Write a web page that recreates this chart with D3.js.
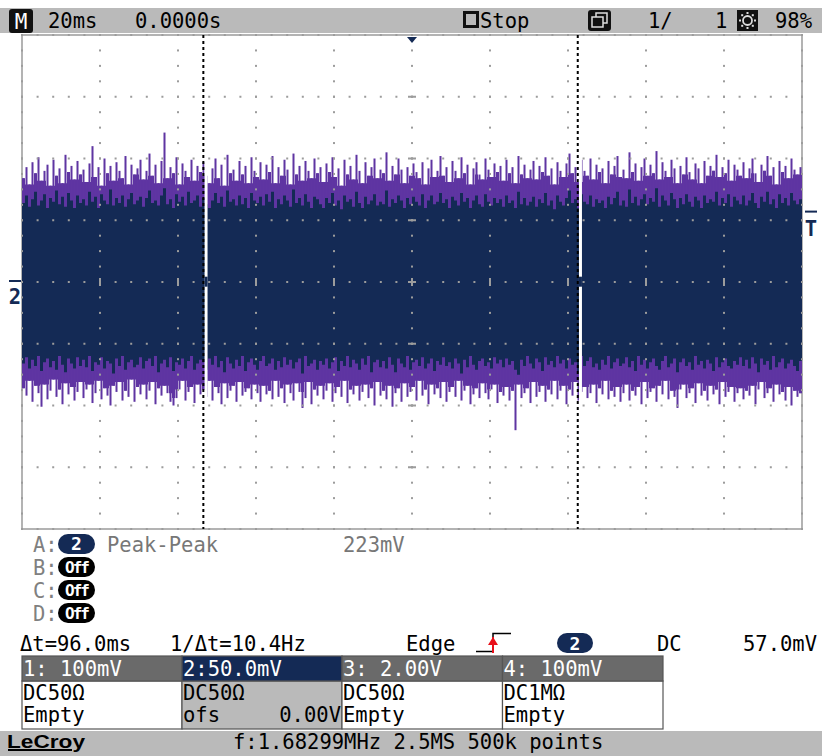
<!DOCTYPE html>
<html>
<head>
<meta charset="utf-8">
<script src="https://cdn.jsdelivr.net/npm/d3@7"></script>
<style>
  body { margin: 0; background: #fff; }
  svg { display: block; }
  text { font-family: "DejaVu Sans Mono", monospace; font-size: 20.5px; }
</style>
</head>
<body>
<div class="scope"></div>
<script>
/** channel 2 trace, sampled every ~0.77ms, values in mV (50mV/div) */
const upPeak = [
  84, 93, 79, 97, 88, 101, 82, 90, 95, 78, 99, 86, 92, 80, 103, 89, 94, 83, 98, 87,
  91, 81, 96, 110, 85, 93, 78, 100, 88, 94, 82, 97, 90, 84, 102, 79, 95, 87, 92, 99,
  83, 90, 104, 86, 95, 80, 98, 121, 84, 93, 88, 101, 79, 96, 90, 85, 99, 82, 94, 89,
  97, 86, 80, 92, 100, 84, 95, 78, 103, 88, 91, 82, 98, 87, 94, 80, 101, 90, 85, 97,
  83, 95, 89, 102, 80, 93, 86, 99, 91, 79, 104, 87, 94, 82, 98, 90, 84, 100, 88, 93,
  81, 96, 89, 101, 85, 92, 78, 99, 87, 94, 83, 103, 90, 80, 97, 86, 93, 100, 84, 91,
  88, 105, 82, 94, 87, 100, 91, 80, 93, 86, 96, 89, 84, 97, 79, 92, 99, 85, 90, 102,
  86, 93, 81, 98, 90, 84, 101, 88, 95, 79, 92, 97, 87, 83, 100, 91, 85, 96, 89, 94,
  82, 99, 88, 93, 80, 102, 87, 95, 84, 91, 98, 83, 94, 89, 101, 86, 92, 79, 97, 90,
  85, 96, 104, 88, 93, 81, 99, 90, 86, 100, 83, 95, 89, 92, 80, 98, 87, 94, 102, 85,
  91, 84, 105, 89, 96, 82, 93, 100, 86, 95, 88, 106, 83, 97, 90, 85, 99, 92, 80, 94,
  87, 101, 89, 83, 96, 92, 80, 98, 86, 94, 90, 103, 85, 93, 88, 99, 82, 95, 91, 86,
  97, 84, 92, 100, 88, 81, 95, 90, 102, 86, 93, 79, 98, 89, 94, 84, 100, 91, 87, 93];
const upNavy = [
  64, 70, 61, 67, 73, 62, 66, 71, 60, 68, 65, 74, 63, 69, 61, 72, 66, 60, 70, 64,
  67, 62, 73, 65, 69, 60, 71, 66, 63, 75, 62, 68, 64, 70, 61, 67, 72, 63, 66, 69,
  61, 68, 74, 64, 66, 62, 70, 76, 63, 67, 60, 71, 65, 69, 62, 73, 64, 66, 70, 61,
  68, 63, 60, 66, 72, 64, 69, 61, 74, 65, 67, 62, 70, 63, 68, 60, 72, 66, 64, 69,
  62, 71, 65, 73, 60, 67, 63, 70, 66, 61, 75, 64, 68, 62, 71, 65, 60, 69, 67, 63,
  60, 68, 64, 72, 62, 66, 59, 70, 65, 67, 61, 73, 64, 60, 69, 63, 66, 71, 62, 65,
  63, 74, 61, 67, 64, 70, 66, 60, 68, 63, 69, 65, 62, 71, 60, 66, 70, 63, 65, 72,
  64, 67, 60, 69, 66, 62, 72, 65, 68, 60, 66, 70, 63, 61, 71, 65, 62, 68, 64, 67,
  61, 70, 64, 66, 60, 73, 63, 68, 62, 65, 69, 61, 67, 64, 72, 62, 66, 59, 70, 65,
  62, 68, 74, 64, 67, 60, 71, 65, 63, 70, 61, 67, 64, 66, 60, 69, 63, 68, 73, 62,
  66, 61, 75, 64, 69, 62, 67, 71, 63, 68, 65, 76, 61, 70, 66, 62, 72, 67, 60, 68,
  63, 71, 65, 61, 69, 66, 60, 70, 64, 67, 65, 73, 62, 68, 64, 71, 61, 69, 66, 63,
  70, 62, 66, 72, 64, 60, 69, 65, 73, 63, 67, 60, 71, 64, 68, 62, 72, 66, 63, 67];
const loNavy = [
  -66, -61, -70, -63, -68, -60, -72, -65, -62, -69, -64, -71, -60, -67, -73, -62, -66, -70, -61, -68,
  -63, -69, -60, -72, -65, -67, -61, -70, -64, -66, -74, -62, -68, -60, -71, -65, -63, -69, -67, -61,
  -70, -64, -62, -68, -60, -73, -66, -63, -69, -61, -72, -65, -67, -62, -70, -64, -60, -71, -66, -63,
  -65, -71, -62, -67, -60, -69, -64, -73, -61, -66, -70, -63, -68, -60, -72, -65, -62, -67, -71, -64,
  -60, -68, -66, -62, -71, -64, -69, -61, -67, -63, -70, -65, -62, -74, -60, -68, -66, -63, -71, -64,
  -67, -62, -70, -65, -61, -72, -64, -68, -60, -69, -63, -66, -71, -62, -67, -60, -73, -65, -63, -69,
  -64, -70, -61, -67, -73, -62, -66, -69, -60, -71, -65, -63, -68, -61, -70, -66, -62, -72, -64, -67,
  -61, -68, -65, -70, -62, -66, -74, -63, -69, -60, -67, -71, -64, -62, -68, -65, -70, -61, -66, -63,
  -69, -62, -67, -64, -71, -75, -63, -68, -60, -66, -70, -62, -65, -72, -61, -67, -64, -69, -60, -66,
  -63, -70, -62, -67, -65, -72, -60, -68, -64, -61, -69, -66, -71, -63, -67, -60, -70, -65, -62, -68,
  -66, -61, -69, -64, -72, -60, -67, -63, -70, -65, -62, -68, -71, -64, -60, -69, -66, -62, -73, -65,
  -62, -68, -65, -71, -60, -67, -64, -70, -63, -66, -72, -61, -69, -65, -62, -68, -70, -64, -67, -61,
  -68, -63, -70, -61, -66, -73, -62, -67, -64, -71, -60, -69, -65, -62, -70, -66, -63, -68, -72, -64];
const loPeak = [
  -86, -92, -80, -97, -84, -90, -101, -83, -95, -88, -79, -93, -87, -99, -82, -91, -85, -96, -89, -81,
  -94, -87, -83, -98, -90, -80, -95, -86, -92, -100, -84, -89, -81, -96, -88, -93, -79, -97, -85, -91,
  -83, -95, -88, -81, -99, -86, -92, -84, -90, -97, -100, -94, -87, -80, -96, -89, -85, -98, -83, -91,
  -87, -93, -80, -96, -85, -90, -99, -82, -94, -88, -84, -97, -81, -92, -89, -86, -95, -83, -90, -97,
  -84, -91, -88, -95, -80, -93, -86, -98, -83, -90, -96, -82, -89, -102, -94, -81, -99, -87, -92, -84,
  -95, -88, -82, -97, -90, -85, -93, -80, -98, -87, -91, -84, -96, -89, -83, -94, -86, -100, -81, -92,
  -88, -95, -84, -101, -90, -86, -97, -82, -93, -89, -85, -96, -80, -92, -87, -99, -83, -91, -86, -94,
  -81, -97, -89, -85, -93, -80, -96, -88, -84, -99, -91, -86, -94, -82, -90, -95, -87, -83, -98, -89,
  -92, -85, -96, -88, -120, -83, -94, -90, -86, -98, -81, -93, -89, -84, -97, -87, -91, -80, -95, -88,
  -84, -99, -87, -92, -81, -96, -89, -85, -94, -90, -83, -98, -86, -91, -80, -95, -88, -93, -85, -97,
  -90, -83, -96, -88, -92, -85, -99, -81, -94, -89, -86, -97, -84, -91, -80, -95, -88, -93, -102, -87,
  -83, -94, -90, -86, -98, -82, -92, -88, -96, -84, -91, -87, -99, -81, -93, -89, -85, -97, -90, -86,
  -95, -88, -92, -84, -99, -87, -81, -94, -90, -86, -97, -83, -91, -89, -96, -85, -100, -88, -93, -90];

/** cursors (ms), trigger level (mV) */
const cursorT = [-53.5, 42.5];
const trigLevel = 57.0;

/** readouts */
const topBar = [["20ms", 48], ["0.0000s", 135], ["Stop", 480], ["1/", 648], ["1", 715], ["98%", 775]];
const measLabels = ["A:", "B:", "C:", "D:"];
const measSource = ["2", "Off", "Off", "Off"];
const chanHead = ["1: 100mV", "2:50.0mV", "3: 2.00V", "4: 100mV"];
const chanCoupling = ["DC50Ω", "DC50Ω", "DC50Ω", "DC1MΩ"];
const chanInfo = ["Empty", "ofs", "Empty", "Empty"];

const NAVY = "#142a55", PURPLE = "#5f35a2", BAR = "#bababa", DOT = "#9c9c9c";

let svg = d3.select('.scope').append('svg')
    .attr('width', 822)
    .attr('height', 756);

/** Set up scales: 20ms/div x 10, 50mV/div x 8 */
let x = d3.scaleLinear().domain([-100, 100]).range([22, 802]);
let y = d3.scaleLinear().domain([-200, 200]).range([529, 35]);

/** top status bar */
svg.append('rect').attr('x', 0).attr('y', 8).attr('width', 822).attr('height', 25).attr('fill', BAR);
svg.append('rect').attr('x', 9).attr('y', 9).attr('width', 24).attr('height', 24).attr('rx', 3).attr('fill', '#111');
svg.append('text').attr('x', 21).attr('y', 29).attr('text-anchor', 'middle')
    .attr('fill', '#fff').style('font-size', '21px').text('M');
svg.selectAll('.topText')
    .data(topBar)
    .enter()
    .append('text')
    .attr('class', 'topText')
    .attr('x', d => d[1])
    .attr('y', 28)
    .text(d => d[0]);
// stop icon
svg.append('rect').attr('x', 464.5).attr('y', 12.5).attr('width', 13).attr('height', 14)
    .attr('fill', 'none').attr('stroke', '#111').attr('stroke-width', 3);
// persistence icon
svg.append('rect').attr('x', 588).attr('y', 10).attr('width', 23).attr('height', 21).attr('rx', 3).attr('fill', '#111');
svg.append('rect').attr('x', 596).attr('y', 13).attr('width', 11).attr('height', 10)
    .attr('fill', '#111').attr('stroke', '#ddd').attr('stroke-width', 1.5);
svg.append('rect').attr('x', 592).attr('y', 17).attr('width', 11).attr('height', 10)
    .attr('fill', '#111').attr('stroke', '#ddd').attr('stroke-width', 1.5);
// intensity icon
svg.append('rect').attr('x', 737).attr('y', 10).attr('width', 21).attr('height', 21).attr('fill', '#111');
svg.append('circle').attr('cx', 747.5).attr('cy', 20.5).attr('r', 4.5)
    .attr('fill', 'none').attr('stroke', '#ddd').attr('stroke-width', 1.8);
d3.range(8).forEach(k => {
    let a = k * Math.PI / 4;
    svg.append('rect').attr('x', 747.5 + 7.5 * Math.cos(a) - 1).attr('y', 20.5 + 7.5 * Math.sin(a) - 1)
        .attr('width', 2).attr('height', 2).attr('fill', '#ddd');
});

/** plot frame */
svg.append('rect')
    .attr('x', x(-100)).attr('y', y(200))
    .attr('width', x(100) - x(-100)).attr('height', y(-200) - y(200))
    .attr('fill', '#fff').attr('stroke', '#9a9a9a').attr('stroke-width', 1.5);

/** waveform: solid body, thin spikes at the tips, navy core */
let dt = 200 / upPeak.length;
let samples = upPeak.map((d, i) => ({
    t: -100 + i * dt, up: d, un: upNavy[i], ln: loNavy[i], lp: loPeak[i],
    // body reaches only as far as the lower of the neighbouring tips
    bu: d3.min([upPeak[i - 1], d, upPeak[i + 1]].filter(v => v != null)),
    bl: d3.max([loPeak[i - 1], loPeak[i], loPeak[i + 1]].filter(v => v != null))
}));
let last = Object.assign({}, samples[samples.length - 1], { t: 100 });

let body = d3.area().curve(d3.curveStepAfter)
    .x(d => x(d.t)).y0(d => y(d.bl)).y1(d => y(d.bu));
let core = d3.area().curve(d3.curveStepAfter)
    .x(d => x(d.t)).y0(d => y(d.ln)).y1(d => y(d.un));

svg.append('path').datum(samples.concat([last])).attr('d', body).attr('fill', PURPLE);
svg.selectAll('.spike')
    .data(samples)
    .enter()
    .append('rect')
    .attr('class', 'spike')
    .attr('x', d => x(d.t) + 0.5)
    .attr('width', x(dt) - x(0) - 1)
    .attr('y', d => y(d.up))
    .attr('height', d => y(d.lp) - y(d.up))
    .attr('fill', PURPLE);
svg.append('path').datum(samples.concat([last])).attr('d', core).attr('fill', NAVY);

/** gaps in the record just after each cursor */
cursorT.forEach(t => {
    svg.append('rect').attr('x', x(t) + 1.2).attr('y', y(125))
        .attr('width', 3).attr('height', y(-125) - y(125)).attr('fill', '#fff');
    svg.append('rect').attr('x', x(t) + 1.2).attr('y', y(4.3))
        .attr('width', 3).attr('height', y(-3.8) - y(4.3)).attr('fill', NAVY);
});

/** graticule dots */
let majorT = d3.range(-100, 100.1, 20);
let majorV = d3.range(-200, 200.1, 50);
let dots = [];
majorV.forEach(v => d3.range(-100, 100.1, 4).forEach(t => dots.push([t, v])));
majorT.forEach(t => d3.range(-200, 200.1, 12.5).forEach(v => dots.push([t, v])));

svg.selectAll('.dot')
    .data(dots)
    .enter()
    .append('rect')
    .attr('class', 'dot')
    .attr('x', d => x(d[0]) - 1)
    .attr('y', d => y(d[1]) - 1)
    .attr('width', 2)
    .attr('height', 2)
    .attr('fill', DOT);

/** centre cross ticks */
svg.selectAll('.vtick')
    .data(majorT.filter(t => Math.abs(t) < 100))
    .enter()
    .append('rect')
    .attr('x', d => x(d) - 1).attr('y', y(0) - 4)
    .attr('width', 2).attr('height', 8)
    .attr('fill', DOT);
svg.selectAll('.htick')
    .data(majorV.filter(v => Math.abs(v) < 200))
    .enter()
    .append('rect')
    .attr('x', x(0) - 4).attr('y', d => y(d) - 1)
    .attr('width', 8).attr('height', 2)
    .attr('fill', DOT);

/** cursors */
svg.selectAll('.cursor')
    .data(cursorT)
    .enter()
    .append('line')
    .attr('x1', d => x(d)).attr('x2', d => x(d))
    .attr('y1', y(200)).attr('y2', y(-200))
    .attr('stroke', '#000').attr('stroke-width', 2)
    .attr('stroke-dasharray', '3,3');

/** trigger position, trigger level and ground markers */
svg.append('path')
    .attr('d', `M${x(0) - 5},${y(200) + 2}L${x(0) + 5},${y(200) + 2}L${x(0)},${y(200) + 8}Z`)
    .attr('fill', NAVY);
svg.append('line').attr('x1', 805).attr('x2', 817).attr('y1', y(trigLevel)).attr('y2', y(trigLevel))
    .attr('stroke', NAVY).attr('stroke-width', 2);
svg.append('text').attr('x', 811).attr('y', y(trigLevel) + 24).attr('text-anchor', 'middle')
    .attr('fill', NAVY).style('font-weight', 'bold').text('T');
svg.append('line').attr('x1', 9).attr('x2', 21).attr('y1', y(0) - 1).attr('y2', y(0) - 1)
    .attr('stroke', NAVY).attr('stroke-width', 2);
svg.append('text').attr('x', 15).attr('y', y(0) + 22).attr('text-anchor', 'middle')
    .attr('fill', NAVY).style('font-weight', 'bold').text('2');

/** measurement table */
let meas = svg.selectAll('.meas')
    .data(measLabels)
    .enter()
    .append('g')
    .attr('transform', (d, i) => `translate(0, ${552 + 23 * i})`);
meas.append('text').attr('x', 33).attr('y', 0).attr('fill', '#808080').text(d => d);
meas.append('rect').attr('x', 58).attr('y', -18).attr('width', 37).attr('height', 20).attr('rx', 10)
    .attr('fill', (d, i) => measSource[i] == "Off" ? '#000' : NAVY);
meas.append('text').attr('x', 76.5).attr('y', -2).attr('text-anchor', 'middle')
    .attr('fill', '#fff').style('font-weight', 'bold')
    .style('font-size', (d, i) => measSource[i] == "Off" ? '16px' : '18px')
    .style('letter-spacing', (d, i) => measSource[i] == "Off" ? '-2px' : '0')
    .text((d, i) => measSource[i]);
svg.append('text').attr('x', 107).attr('y', 552).attr('fill', '#777').text('Peak-Peak');
svg.append('text').attr('x', 343).attr('y', 552).attr('fill', '#777').text('223mV');

/** cursor + trigger readout */
svg.append('text').attr('x', 20).attr('y', 651).text('Δt=96.0ms');
svg.append('text').attr('x', 170).attr('y', 651).text('1/Δt=10.4Hz');
svg.append('text').attr('x', 406).attr('y', 651).text('Edge');
svg.append('path').attr('d', 'M476,651.5H493V633.5H511').attr('fill', 'none')
    .attr('stroke', '#000').attr('stroke-width', 1.5);
svg.append('line').attr('x1', 493).attr('x2', 493).attr('y1', 637).attr('y2', 653)
    .attr('stroke', '#e8101a').attr('stroke-width', 2);
svg.append('path').attr('d', 'M488,645L498,645L493,637Z').attr('fill', '#e8101a');
svg.append('rect').attr('x', 557).attr('y', 633).attr('width', 36).attr('height', 20).attr('rx', 10).attr('fill', NAVY);
svg.append('text').attr('x', 575).attr('y', 650).attr('text-anchor', 'middle')
    .attr('fill', '#fff').style('font-weight', 'bold').style('font-size', '18px').text('2');
svg.append('text').attr('x', 657).attr('y', 651).text('DC');
svg.append('text').attr('x', 743).attr('y', 651).text('57.0mV');

/** channel boxes */
let colX = [22, 182, 342, 502.5, 663];
let chan = svg.selectAll('.chan')
    .data(chanHead)
    .enter()
    .append('g')
    .attr('class', 'chan');
chan.append('rect')
    .attr('x', (d, i) => colX[i]).attr('y', 681)
    .attr('width', (d, i) => colX[i + 1] - colX[i]).attr('height', 48)
    .attr('fill', (d, i) => i == 1 ? BAR : '#fff')
    .attr('stroke', '#555').attr('stroke-width', 1.2);
chan.append('rect')
    .attr('x', (d, i) => colX[i]).attr('y', 656)
    .attr('width', (d, i) => colX[i + 1] - colX[i]).attr('height', 25)
    .attr('fill', (d, i) => i == 1 ? NAVY : '#6a6a6a')
    .attr('stroke', '#555').attr('stroke-width', 1.2);
chan.append('text').attr('x', (d, i) => colX[i] + 1).attr('y', 676).attr('fill', '#fff').text(d => d);
chan.append('text').attr('x', (d, i) => colX[i] + 1).attr('y', 700).text((d, i) => chanCoupling[i]);
chan.append('text').attr('x', (d, i) => colX[i] + 1).attr('y', 722).text((d, i) => chanInfo[i]);
svg.append('text').attr('x', 341).attr('y', 722).attr('text-anchor', 'end').text('0.00V');

/** bottom bar */
svg.append('rect').attr('x', 0).attr('y', 731).attr('width', 822).attr('height', 25).attr('fill', BAR);
svg.append('text').attr('x', 7).attr('y', 748)
    .style('font-family', '"Liberation Sans", Arial, sans-serif')
    .style('font-weight', 'bold').style('font-size', '19px')
    .attr('textLength', 78).attr('lengthAdjust', 'spacingAndGlyphs')
    .text('LeCroy');
svg.append('line').attr('x1', 8).attr('x2', 72).attr('y1', 750).attr('y2', 750)
    .attr('stroke', '#000').attr('stroke-width', 2);
svg.append('text').attr('x', 233).attr('y', 749).text('f:1.68299MHz 2.5MS 500k points');
</script>
</body>
</html>
